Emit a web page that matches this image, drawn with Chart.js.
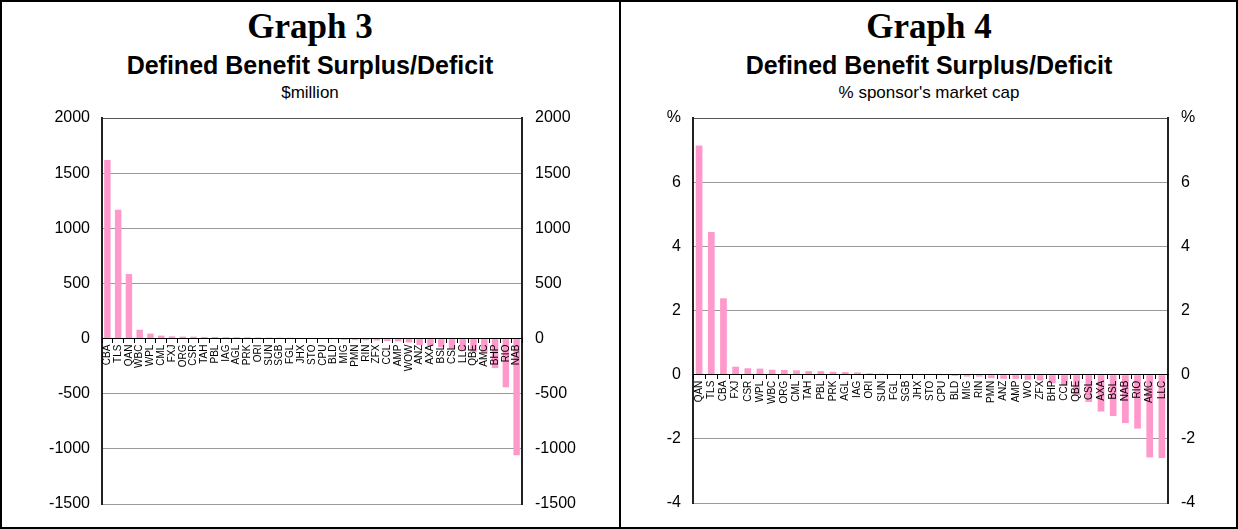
<!DOCTYPE html>
<html>
<head>
<meta charset="utf-8">
<script src="https://cdn.jsdelivr.net/npm/chart.js@4"></script>
<style>
  html, body { margin:0; padding:0; background:#fff; }
  #page { position:absolute; left:0; top:0; width:1238px; height:529px; box-sizing:border-box; border:2px solid #000; }
  #divider { position:absolute; left:619px; top:0; width:2px; height:529px; background:#000; }
  .t { position:absolute; text-align:center; line-height:1; color:#000; white-space:nowrap; }
  .g { font-family:"Liberation Serif","Times New Roman",serif; font-weight:bold; font-size:35px; top:9px; }
  .h { font-family:"Liberation Sans",Arial,sans-serif; font-weight:bold; font-size:25px; top:53px; }
  .s { font-family:"Liberation Sans",Arial,sans-serif; font-size:17px; top:84px; }
  canvas { position:absolute; top:0; }
</style>
</head>
<body>
<div id="page"></div>
<div id="divider"></div>
<div class="t g" style="left:0;width:620px;">Graph 3</div>
<div class="t h" style="left:0;width:620px;">Defined Benefit Surplus/Deficit</div>
<div class="t s" style="left:0;width:620px;">$million</div>
<div class="t g" style="left:620px;width:618px;">Graph 4</div>
<div class="t h" style="left:620px;width:618px;">Defined Benefit Surplus/Deficit</div>
<div class="t s" style="left:620px;width:618px;">% sponsor's market cap</div>
<canvas id="c3" width="620" height="529" style="left:0;width:620px;height:529px;"></canvas>
<canvas id="c4" width="618" height="529" style="left:620px;width:618px;height:529px;"></canvas>
<script>
// Graph 3 data ($million)
const categories3 = ["CBA","TLS","QAN","WBC","WPL","CML","FXJ","ORG","CSR","TAH","PBL","IAG","AGL","PRK","ORI","SUN","SGB","FGL","JHX","STO","CPU","BLD","MIG","PMN","RIN","ZFX","CCL","AMP","WOW","ANZ","AXA","BSL","CSL","LLC","QBE","AMC","BHP","RIO","NAB"];
const values3 = [1620,1167,585,80,45,27,20,18,17,15,14,13,12,11,10,9,8,7,6,3,1,-2,-12,-14,-15,-18,-22,-25,-35,-58,-66,-78,-92,-108,-122,-138,-268,-442,-1058];
const ticks3 = {min:-1500, max:2000, step:500};

// Graph 4 data (% sponsor's market cap)
const categories4 = ["QAN","TLS","CBA","FXJ","CSR","WPL","WBC","ORG","CML","TAH","PBL","PRK","AGL","IAG","ORI","SUN","FGL","SGB","JHX","STO","CPU","BLD","MIG","RIN","PMN","ANZ","AMP","WO","ZFX","BHP","CCL","QBE","CSL","AXA","BSL","NAB","RIO","AMC","LLC"];
const values4 = [7.14,4.45,2.38,0.25,0.20,0.19,0.155,0.145,0.135,0.11,0.11,0.09,0.08,0.07,0.04,0.03,0.02,0.01,0.01,0.005,-0.01,-0.04,-0.06,-0.06,-0.11,-0.13,-0.13,-0.16,-0.18,-0.27,-0.34,-0.64,-0.85,-1.15,-1.29,-1.51,-1.68,-2.58,-2.60];
const ticks4 = {min:-4, max:8, step:2, topLabel:'%'};

const barColor = '#FF99CC';
const FONT = '"Liberation Sans", Arial, sans-serif';

function makeChart(id, cats, vals, tk, geom) {
  const yTickCb = function(v) { return (tk.topLabel && v === tk.max) ? tk.topLabel : v; };
  const gridColor = function(ctx) { return (ctx.tick && ctx.tick.value === tk.max) ? '#555' : '#9a9a9a'; };
  return new Chart(document.getElementById(id), {
    type: 'bar',
    data: { labels: cats, datasets: [{ data: vals, backgroundColor: barColor, borderWidth: 0, barPercentage: geom.barPct, categoryPercentage: 1 }] },
    options: {
      responsive: false, animation: false, devicePixelRatio: 1,
      layout: { padding: { left: 0, right: 0, top: geom.top, bottom: geom.bottom } },
      plugins: { legend: { display: false }, tooltip: { enabled: false }, title: { display: false } },
      events: [],
      scales: {
        x: {
          type: 'category', position: { y: 0 },
          grid: { display: true, drawOnChartArea: false, drawTicks: true, tickLength: 4, tickColor: '#000', offset: true, z: 1 },
          border: { display: true, color: '#000', width: 1, z: 1 },
          ticks: { autoSkip: false, minRotation: 90, maxRotation: 90, padding: 2, color: '#000', font: { family: FONT, size: 10 }, z: 1 }
        },
        y: {
          position: 'left', min: tk.min, max: tk.max,
          grid: { color: gridColor, lineWidth: 1, drawTicks: false },
          border: { display: true, color: '#222', width: 2 },
          ticks: { stepSize: tk.step, padding: 12, color: '#000', font: { family: FONT, size: 16 }, callback: yTickCb },
          afterFit: function(s) { s.width = geom.leftW; }
        },
        y2: {
          position: 'right', min: tk.min, max: tk.max,
          grid: { drawOnChartArea: false, drawTicks: false },
          border: { display: true, color: '#222', width: 2 },
          ticks: { stepSize: tk.step, padding: 13, color: '#000', font: { family: FONT, size: 16 }, callback: yTickCb },
          afterFit: function(s) { s.width = geom.rightW; }
        }
      }
    }
  });
}

makeChart('c3', categories3, values3, ticks3, { top: 118, bottom: 25, leftW: 102, rightW: 98, barPct: 0.6 });
makeChart('c4', categories4, values4, ticks4, { top: 118, bottom: 26, leftW: 73, rightW: 70, barPct: 0.55 });
</script>
</body>
</html>
